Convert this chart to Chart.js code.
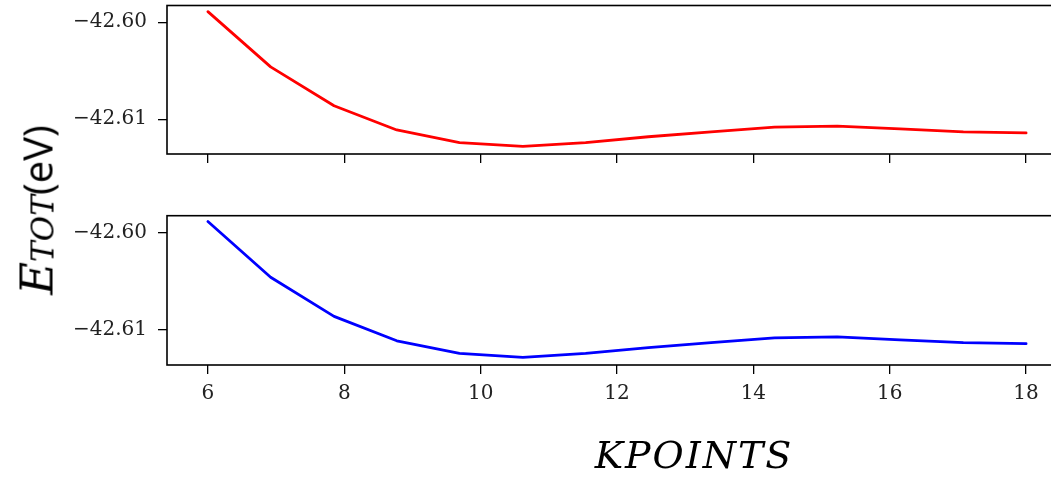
<!DOCTYPE html>
<html>
<head>
<meta charset="utf-8">
<script src="https://cdn.jsdelivr.net/npm/chart.js@4.4.1/dist/chart.umd.min.js"></script>
<style>
  html, body { margin: 0; padding: 0; background: #fff; }
  #wrap { position: relative; width: 1051px; height: 480px; overflow: hidden; background: #fff; }
  canvas { position: absolute; left: 0; }
  #c1 { top: 0; }
  #c2 { top: 200px; }
  #ylab { position: absolute; left: 37px; top: 210px; white-space: nowrap; transform: translate(-50%, -50%) rotate(-90deg); line-height: 1; color: #000; }
  #ylab .e { font-family: 'DejaVu Serif'; font-style: italic; font-size: 45px; }
  #ylab .sub { font-family: 'DejaVu Serif'; font-style: italic; font-size: 31px; position: relative; top: 1px; }
  #ylab .unit { font-family: 'Open Sans'; font-size: 40px; }
  #xlab { position: absolute; left: 694px; top: 436px; transform: translateX(-50%); white-space: nowrap; font-family: 'DejaVu Serif'; font-style: italic; font-size: 38px; line-height: 38px; letter-spacing: 2px; color: #000; }
</style>
</head>
<body>
<div id="wrap">
  <canvas id="c1" width="1090" height="170"></canvas>
  <canvas id="c2" width="1090" height="280"></canvas>
  <div id="ylab"><span class="e">E</span><span class="sub">TOT</span><span class="unit">(eV)</span></div>
  <div id="xlab">KPOINTS</div>
</div>
<script>
// ---- data ----
const kpoints = [6, 6.92, 7.85, 8.77, 9.69, 10.62, 11.54, 12.46, 13.38, 14.31, 15.23, 16.15, 17.08, 18];
const energyRed = [-42.5989, -42.6046, -42.6086, -42.6111, -42.6124, -42.6128, -42.6124, -42.6118, -42.6113, -42.6108, -42.6107, -42.6110, -42.6113, -42.6114];
const energyBlue = [-42.5989, -42.6046, -42.6086, -42.6111, -42.6124, -42.6128, -42.6124, -42.6118, -42.6113, -42.6108, -42.6107, -42.6110, -42.6113, -42.6114];
const xTickValues = [6, 8, 10, 12, 14, 16, 18];
const yTickValues = [-42.61, -42.60];
const xRange = [5.4, 18.6];
const yRangeTop = [-42.61358, -42.59827];
const yRangeBottom = [-42.61358, -42.59830];

const TICK_FONT = { family: 'DejaVu Serif', size: 20 };
const TICK_COLOR = '#222';

const framePlugin = {
  id: 'frame',
  afterDraw(chart) {
    const { ctx, chartArea: a } = chart;
    ctx.save();
    ctx.strokeStyle = '#000';
    ctx.lineWidth = 1.6;
    ctx.strokeRect(a.left, a.top, a.right - a.left, a.bottom - a.top);
    ctx.restore();
  }
};

function fmtY(v) {
  const s = Math.abs(v).toFixed(2);
  return (v < 0 ? '\u2212' : '') + s;
}

function zeroPad(s) { s.paddingTop = 0; s.paddingBottom = 0; s.paddingLeft = 0; s.paddingRight = 0; }

function makeChart(id, values, color, yRange, padTop, xHeight, showXLabels) {
  const pts = kpoints.map((x, i) => ({ x: x, y: values[i] }));
  return new Chart(document.getElementById(id), {
    type: 'line',
    data: { datasets: [{ data: pts, borderColor: color, borderWidth: 2.8, pointRadius: 0, fill: false, tension: 0, borderJoinStyle: 'round', borderCapStyle: 'round' }] },
    options: {
      responsive: false,
      animation: false,
      devicePixelRatio: 1,
      layout: { padding: { top: padTop, right: 23, left: 0, bottom: 0 } },
      plugins: { legend: { display: false }, tooltip: { enabled: false } },
      scales: {
        x: {
          type: 'linear', min: xRange[0], max: xRange[1],
          afterBuildTicks: s => { s.ticks = xTickValues.map(v => ({ value: v })); },
          afterFit: s => { s.height = xHeight; zeroPad(s); },
          grid: { display: true, drawOnChartArea: false, drawTicks: true, tickLength: 9, color: '#000', lineWidth: 1.3 },
          border: { display: false },
          ticks: { display: showXLabels, font: TICK_FONT, color: TICK_COLOR, padding: 8, maxRotation: 0, callback: v => String(v) }
        },
        y: {
          type: 'linear', min: yRange[0], max: yRange[1],
          afterBuildTicks: s => { s.ticks = yTickValues.map(v => ({ value: v })); },
          afterFit: s => { s.width = 167; zeroPad(s); },
          grid: { display: true, drawOnChartArea: false, drawTicks: true, tickLength: 9, color: '#000', lineWidth: 1.3 },
          border: { display: false },
          ticks: { font: TICK_FONT, color: TICK_COLOR, padding: 11, callback: v => fmtY(v) }
        }
      }
    },
    plugins: [framePlugin]
  });
}

makeChart('c1', energyRed, '#ff0000', yRangeTop, 5.5, 16, false);
makeChart('c2', energyBlue, '#0000ff', yRangeBottom, 15.7, 115, true);
</script>
</body>
</html>
